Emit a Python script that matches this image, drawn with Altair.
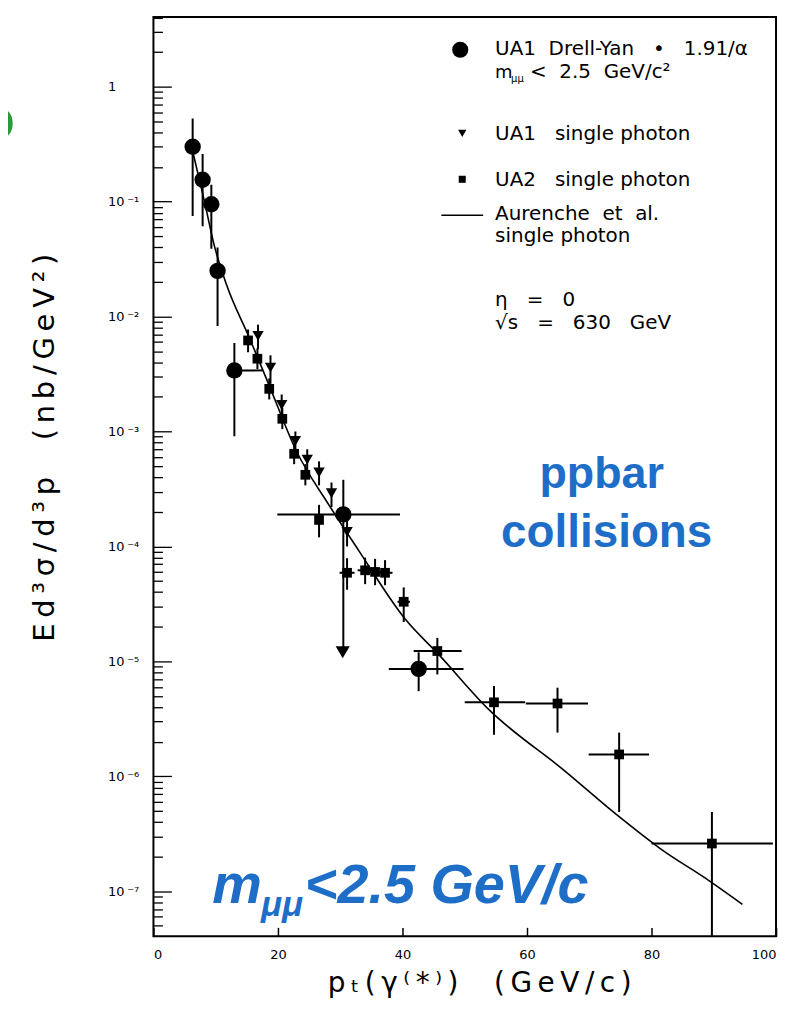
import json
import altair as alt
import pandas as pd

# ---------------- data ----------------
# UA1 Drell-Yan (large circles)
dy_pt = [6.3, 7.9, 9.3, 10.3, 13.0, 30.5, 42.6]
dy_val = [0.30, 0.155, 0.095, 0.025, 0.0034, 1.9e-4, 8.6e-6]
dy_lo = [0.075, 0.061, 0.039, 0.0083, 0.00091, 1.2e-5, 5.5e-6]
dy_hi = [0.53, 0.26, 0.14, 0.04, 0.0059, 3.8e-4, 1.2e-5]
dy_xlo = [6.3, 7.9, 9.3, 10.3, 12.5, 19.9, 37.8]
dy_xhi = [6.3, 7.9, 9.3, 10.3, 17.5, 39.6, 49.8]

# lower-limit arrow on the Drell-Yan point at 30 GeV
arrow_pt = [30.4]
arrow_val = [1.2e-5]

# UA1 single photon (triangles)
tri_pt = [16.8, 18.8, 20.6, 22.8, 24.7, 26.6, 28.6, 31.1]
tri_val = [6.8e-3, 3.6e-3, 1.7e-3, 8.3e-4, 5.7e-4, 4.4e-4, 2.9e-4, 1.34e-4]
tri_lo = [5.2e-3, 2.6e-3, 1.3e-3, 6.5e-4, 4.5e-4, 3.4e-4, 2.2e-4, 1.0e-4]
tri_hi = [8.5e-3, 4.6e-3, 2.1e-3, 1.0e-3, 7.0e-4, 5.5e-4, 3.6e-4, 1.7e-4]

# UA2 single photon (squares)
sq_pt = [15.2, 16.7, 18.6, 20.7, 22.6, 24.4, 26.6, 31.1, 34.0, 35.6, 37.2, 40.2, 45.6, 54.7, 64.9, 74.8, 89.7]
sq_val = [6.2e-3, 4.3e-3, 2.35e-3, 1.29e-3, 6.4e-4, 4.2e-4, 1.7e-4, 5.9e-5, 6.2e-5, 6.0e-5, 5.9e-5,
          3.3e-5, 1.23e-5, 4.4e-6, 4.3e-6, 1.55e-6, 2.6e-7]
sq_lo = [4.9e-3, 3.5e-3, 1.9e-3, 1.05e-3, 5.2e-4, 3.4e-4, 1.2e-4, 4.2e-5, 4.7e-5, 4.6e-5, 4.6e-5,
         2.2e-5, 7.7e-6, 2.3e-6, 2.4e-6, 4.9e-7, 1e-8]
sq_hi = [7.7e-3, 5.3e-3, 2.9e-3, 1.6e-3, 7.9e-4, 5.2e-4, 2.3e-4, 7.9e-5, 8.0e-5, 7.8e-5, 7.6e-5,
         4.4e-5, 1.6e-5, 6.1e-6, 5.9e-6, 2.4e-6, 4.9e-7]
sq_xlo = [14.6, 16.1, 18.0, 20.1, 22.0, 23.8, 26.0, 29.9, 32.8, 34.4, 36.0, 39.2, 41.8, 50.0, 59.8, 69.9, 80.0]
sq_xhi = [15.8, 17.3, 19.2, 21.3, 23.2, 25.0, 27.2, 32.3, 35.2, 36.8, 38.4, 41.2, 49.5, 59.7, 69.8, 79.6, 99.5]

# Aurenche et al. single photon (theory curve)
curve_pt = [6.2, 8.2, 9.8, 11.7, 15.4, 18.6, 22.9, 28.2, 33.0, 40.5, 45.8, 53.8, 66.1, 74.6, 81.4, 89.4, 94.6]
curve_val = [0.29, 0.10, 0.041, 0.0192, 6.55e-3, 2.51e-3, 6.87e-4, 2.29e-4, 9.16e-5, 2.31e-5,
             1.15e-5, 3.84e-6, 1.11e-6, 4.54e-7, 2.35e-7, 1.22e-7, 7.7e-8]

# axes
x_ticks = [0, 20, 40, 60, 80, 100]
y_decades = [1e-7, 1e-6, 1e-5, 1e-4, 1e-3, 1e-2, 1e-1, 1]
y_labels = ["10\u2009⁻⁷", "10\u2009⁻⁶", "10\u2009⁻⁵", "10\u2009⁻⁴", "10\u2009⁻³", "10\u2009⁻²", "10\u2009⁻¹", "1"]
y_minor = [m * d for d in [1e-8, 1e-7, 1e-6, 1e-5, 1e-4, 1e-3, 1e-2, 1e-1, 1] for m in range(1, 10)
           if 4.05e-8 <= m * d <= 4.05]

NB = "\u00a0"
TH = "\u2009"


def sp(s):
    """keep repeated spaces (SVG collapses ordinary ones)"""
    return s.replace(" ", NB)


def wide(s):
    """letter-spaced text"""
    return TH.join(s)


# ---------------- chart ----------------
W, H = 625, 923
xs = alt.Scale(domain=[0, 100], nice=False, zero=False)
ys = alt.Scale(type="log", domain=[4.05e-8, 4.05], nice=False)
FONT = "DejaVu Sans"
BLUE = "#1e6ec8"

label_expr = "[" + ",".join(json.dumps(s, ensure_ascii=False) for s in y_labels) + "][round(log(datum.value)/LN10)+7]"

x_title = wide("pₜ(γ⁽*⁾)") + NB * 4 + wide("(GeV/c)")
y_title = wide("Ed³σ/d³p") + NB * 4 + wide("(nb/GeV²)")

curve = alt.Chart(pd.DataFrame({"pt": curve_pt, "val": curve_val})).mark_line(
    color="black", strokeWidth=1.6, interpolate="monotone"
).encode(
    x=alt.X("pt:Q", scale=xs, axis=alt.Axis(
        orient="bottom", values=x_ticks, ticks=False, tickSize=0, domain=False, grid=False,
        labelFont=FONT, labelFontSize=13, labelColor="black", labelPadding=12,
        title=x_title, titleFont=FONT, titleFontSize=28, titleFontWeight="normal",
        titleColor="black", titleX=327, titleY=47, titleAlign="center", titleBaseline="middle")),
    y=alt.Y("val:Q", scale=ys, axis=alt.Axis(
        orient="left", values=y_decades, labelExpr=label_expr, ticks=False, tickSize=0,
        domain=False, grid=False, labelAlign="left", labelPadding=46, labelFont=FONT,
        labelFontSize=13, labelColor="black",
        title=y_title, titleFont=FONT, titleFontSize=29, titleFontWeight="normal",
        titleColor="black", titleAngle=270, titleX=-109, titleY=432, titleAlign="center",
        titleBaseline="middle")),
)

# vertical error bars
verr = pd.DataFrame({
    "pt": dy_pt + tri_pt + sq_pt,
    "lo": dy_lo + tri_lo + sq_lo,
    "hi": dy_hi + tri_hi + sq_hi,
})
vbars = alt.Chart(verr).mark_rule(color="black", strokeWidth=2, clip=True).encode(
    x=alt.X("pt:Q", scale=xs, axis=None),
    y=alt.Y("lo:Q", scale=ys, axis=None),
    y2="hi:Q",
)

# horizontal error bars
herr = pd.DataFrame({
    "xlo": dy_xlo + sq_xlo,
    "xhi": dy_xhi + sq_xhi,
    "val": dy_val + sq_val,
})
hbars = alt.Chart(herr).mark_rule(color="black", strokeWidth=2, clip=True).encode(
    x=alt.X("xlo:Q", scale=xs, axis=None),
    x2="xhi:Q",
    y=alt.Y("val:Q", scale=ys, axis=None),
)

tick_cond = "abs(log(datum.value)/LN10 - round(log(datum.value)/LN10)) < 0.001"
circles = alt.Chart(pd.DataFrame({"pt": dy_pt, "val": dy_val})).mark_point(
    shape="circle", filled=True, size=270, color="black", opacity=1
).encode(
    x=alt.X("pt:Q", scale=xs, axis=None),
    y=alt.Y("val:Q", scale=ys, axis=None),
)

squares = alt.Chart(pd.DataFrame({"pt": sq_pt, "val": sq_val})).mark_point(
    shape="square", filled=True, size=95, color="black", opacity=1
).encode(
    x=alt.X("pt:Q", scale=xs, axis=alt.Axis(
        orient="top", offset=-H, values=x_ticks, labels=False, domain=False, grid=False,
        title=None, tickSize=9, tickWidth=1.5, tickColor="black")),
    y=alt.Y("val:Q", scale=ys, axis=alt.Axis(
        orient="right", offset=-W, values=y_minor, labels=False, domain=False, grid=False,
        title=None, tickWidth=1.3, tickColor="black",
        tickSize={"condition": {"test": tick_cond, "value": 18}, "value": 9})),
)

triangles = alt.Chart(pd.DataFrame({"pt": tri_pt, "val": tri_val})).mark_point(
    shape="triangle-down", filled=True, size=130, color="black", opacity=1
).encode(
    x=alt.X("pt:Q", scale=xs, axis=None),
    y=alt.Y("val:Q", scale=ys, axis=None),
)

arrow = alt.Chart(pd.DataFrame({"pt": arrow_pt, "val": arrow_val})).mark_point(
    shape="triangle-down", filled=True, size=200, color="black", opacity=1
).encode(
    x=alt.X("pt:Q", scale=xs, axis=None),
    y=alt.Y("val:Q", scale=ys, axis=None),
)


def txt(s, x, y, size, font=FONT, color="black", align="left", baseline="alphabetic", **kw):
    return alt.Chart(pd.DataFrame({"t": [sp(s)]})).mark_text(
        align=align, baseline=baseline, fontSize=size, font=font, color=color, **kw
    ).encode(text="t:N", x=alt.value(x), y=alt.value(y))


def sym(shape, x, y, size):
    return alt.Chart(pd.DataFrame({"t": [shape]})).mark_point(
        shape=shape, filled=True, size=size, color="black", opacity=1
    ).encode(x=alt.value(x), y=alt.value(y))


legend_line = alt.Chart(pd.DataFrame({"t": ["line"]})).mark_rule(
    color="black", strokeWidth=1.5
).encode(x=alt.value(289), x2=alt.value(331), y=alt.value(199))

LS = 20
annotations = [
    sym("circle", 308, 33, 260),
    sym("triangle-down", 310, 117, 70),
    sym("square", 310, 163, 50),
    legend_line,
    txt("UA1  Drell-Yan   •   1.91/α", 343, 38, LS),
    txt("m", 343, 61, 18),
    txt("μμ", 359, 65, 10),
    txt("<  2.5  GeV/c²", 378, 61, LS),
    txt("UA1   single photon", 343, 124, LS),
    txt("UA2   single photon", 343, 170, LS),
    txt("Aurenche  et  al.", 343, 204, LS),
    txt("single photon", 343, 226, LS),
    txt("η   =   0", 343, 290, LS),
    txt("√s   =   630   GeV", 343, 313, LS),
    txt("ppbar", 450, 473, 45, font="Liberation Sans", color=BLUE, align="center", fontWeight="bold"),
    txt("collisions", 455, 532, 46, font="Liberation Sans", color=BLUE, align="center", fontWeight="bold"),
    txt("m", 59, 890, 56, font="Liberation Sans", color=BLUE, fontWeight="bold", fontStyle="italic"),
    txt("μμ", 108, 903, 35, font="Liberation Sans", color=BLUE, fontWeight="bold", fontStyle="italic"),
    txt("<2.5 GeV/c", 152, 890, 56, font="Liberation Sans", color=BLUE, fontWeight="bold", fontStyle="italic"),
    txt("o", -139, 105, 60, font="Liberation Sans", color="#2a9a3c", align="right", baseline="middle",
        fontWeight="bold"),
]

chart = alt.layer(
    curve, vbars, hbars, circles, squares, triangles, arrow, *annotations
).resolve_axis(
    x="independent", y="independent"
).properties(
    width=W, height=H,
    autosize=alt.AutoSizeParams(type="none"),
    padding={"left": 146, "top": 7, "right": 8, "bottom": 70},
    background="white",
).configure_view(
    stroke="black", strokeWidth=2
)

chart.save("out.html", embed_options={"renderer": "svg", "actions": False})
